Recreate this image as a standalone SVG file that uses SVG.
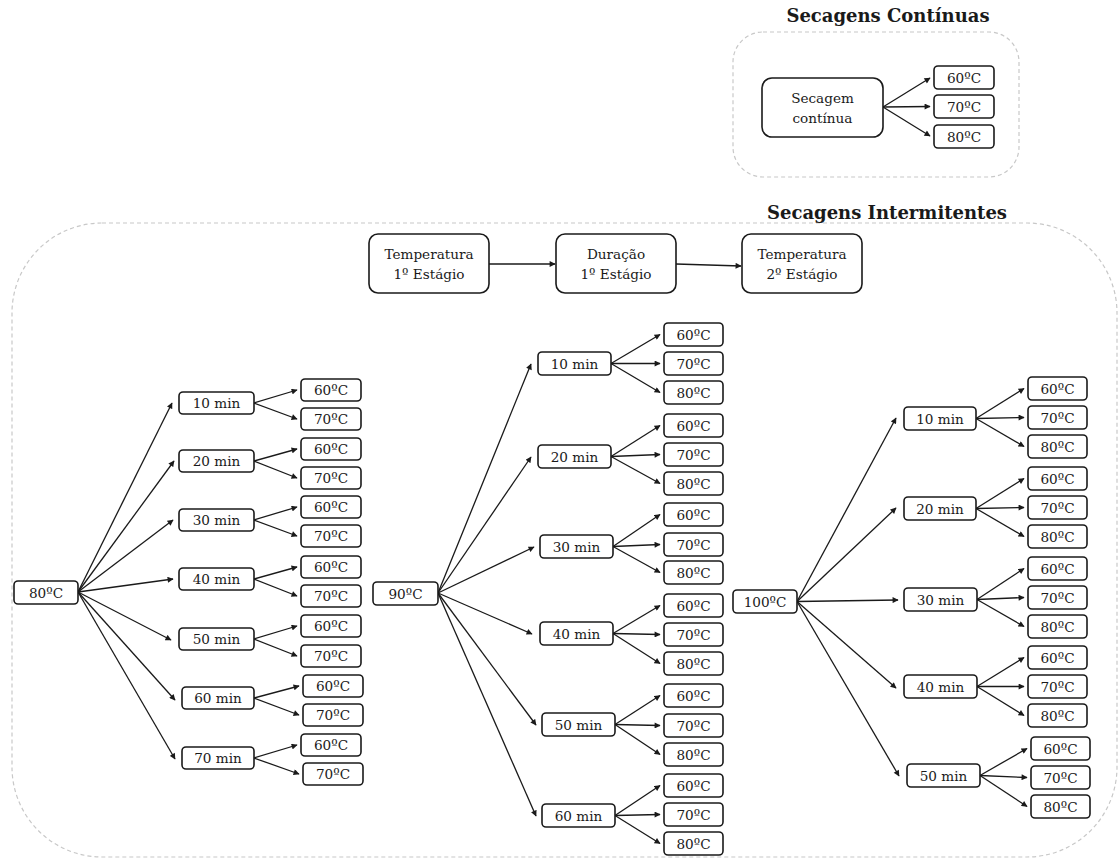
<svg xmlns="http://www.w3.org/2000/svg" width="1118" height="860" viewBox="0 0 1118 860">
<style>
.bg{fill:#fff}
.frame{fill:none;stroke:#c8c8c8;stroke-width:1.2;stroke-dasharray:4 3}
.box{fill:#fff;stroke:#1a1a1a;stroke-width:1.6}
.t{font-family:"DejaVu Serif","Liberation Serif",serif;font-size:13.6px;fill:#1a1a1a;text-anchor:middle;dominant-baseline:central}
.title{font-family:"DejaVu Serif","Liberation Serif",serif;font-size:18px;font-weight:bold;fill:#1a1a1a;text-anchor:middle}
.c path{fill:none;stroke:#1a1a1a;stroke-width:1.3;marker-end:url(#ah)}
</style>
<defs>
<marker id="ah" viewBox="0 0 10 10" refX="9" refY="5" markerWidth="7" markerHeight="6" orient="auto" markerUnits="userSpaceOnUse"><path d="M0,0 L10,5 L0,10 z" fill="#1a1a1a"/></marker>
</defs>
<rect class="bg" x="0" y="0" width="1118" height="860"/>

<g id="frame-continuas">
<rect class="frame" x="733" y="32" width="286" height="145" rx="30"/>
<text class="title" x="888" y="22">Secagens Contínuas</text>
</g>
<g id="frame-intermitentes">
<rect class="frame" x="12" y="223" width="1105" height="634" rx="90"/>
<text class="title" x="887" y="219">Secagens Intermitentes</text>
</g>

<g class="c" id="connectors">
<path d="M883,107 L930,78"/><path d="M883,107 L930,106.5"/><path d="M883,107 L930,136"/>
<path d="M489,264 L555,264"/><path d="M676,264 L741,266"/>
<path d="M78,592 L172,403"/><path d="M78,592 L174,461"/><path d="M78,592 L173,520"/><path d="M78,592 L173,579"/><path d="M78,592 L171,640"/><path d="M78,592 L175,700"/><path d="M78,592 L175,759"/>
<path d="M254,403 L297,390"/><path d="M254,403 L297,419"/>
<path d="M254,461 L297,449"/><path d="M254,461 L297,478"/>
<path d="M254,520 L297,507"/><path d="M254,520 L297,536"/>
<path d="M254,579 L297,567"/><path d="M254,579 L297,596"/>
<path d="M254,639 L297,626"/><path d="M254,639 L297,656"/>
<path d="M254,698 L299,686"/><path d="M254,698 L299,715"/>
<path d="M254,758 L297,745"/><path d="M254,758 L299,774"/>
<path d="M438,593 L531,364"/><path d="M438,593 L531,457"/><path d="M438,593 L534,547"/><path d="M438,593 L532,634"/><path d="M438,593 L536,725"/><path d="M438,593 L536,816"/>
<path d="M611,363.5 L660,334.5"/><path d="M611,363.5 L660,363.5"/><path d="M611,363.5 L660,392.5"/>
<path d="M611,456.5 L660,425.5"/><path d="M611,456.5 L660,454.5"/><path d="M611,456.5 L660,483.5"/>
<path d="M613,546.5 L660,514.5"/><path d="M613,546.5 L660,544.5"/><path d="M613,546.5 L660,572.5"/>
<path d="M613,633.5 L660,605.5"/><path d="M613,633.5 L660,634.5"/><path d="M613,633.5 L660,663.5"/>
<path d="M615,724.5 L660,695.5"/><path d="M615,724.5 L660,725.5"/><path d="M615,724.5 L660,754.5"/>
<path d="M615,815.5 L660,785.5"/><path d="M615,815.5 L660,814.5"/><path d="M615,815.5 L660,843.5"/>
<path d="M797,601.5 L896,418"/><path d="M797,601.5 L896,508"/><path d="M797,601.5 L898,600"/><path d="M797,601.5 L896,688"/><path d="M797,601.5 L899,776"/>
<path d="M976,418.5 L1024,388.5"/><path d="M976,418.5 L1024,417.5"/><path d="M976,418.5 L1024,446.5"/>
<path d="M976,508.5 L1024,478.5"/><path d="M976,508.5 L1024,507.5"/><path d="M976,508.5 L1024,536.5"/>
<path d="M977,599.5 L1024,568.5"/><path d="M977,599.5 L1024,597.5"/><path d="M977,599.5 L1024,626.5"/>
<path d="M977,686.5 L1024,657.5"/><path d="M977,686.5 L1024,686.5"/><path d="M977,686.5 L1024,715.5"/>
<path d="M980,775.5 L1027,748.5"/><path d="M980,775.5 L1027,777.5"/><path d="M980,775.5 L1027,806.5"/>
</g>

<g id="sc"><rect class="box" x="762" y="78" width="121" height="59" rx="10"/><text class="t" x="822.5" y="98">Secagem</text><text class="t" x="822.5" y="118">contínua</text></g>
<g id="sc-60"><rect class="box" x="934" y="66" width="60" height="23" rx="4"/><text class="t" x="964" y="77.5">60ºC</text></g>
<g id="sc-70"><rect class="box" x="934" y="95" width="60" height="23" rx="4"/><text class="t" x="964" y="106.5">70ºC</text></g>
<g id="sc-80"><rect class="box" x="934" y="125" width="60" height="23" rx="4"/><text class="t" x="964" y="136.5">80ºC</text></g>

<g id="h1"><rect class="box" x="369" y="234" width="120" height="59" rx="9"/><text class="t" x="429" y="254">Temperatura</text><text class="t" x="429" y="274">1º Estágio</text></g>
<g id="h2"><rect class="box" x="556" y="234" width="120" height="59" rx="9"/><text class="t" x="616" y="254">Duração</text><text class="t" x="616" y="274">1º Estágio</text></g>
<g id="h3"><rect class="box" x="742" y="234" width="120" height="59" rx="9"/><text class="t" x="802" y="254">Temperatura</text><text class="t" x="802" y="274">2º Estágio</text></g>

<g id="n80"><rect class="box" x="14" y="581" width="64" height="23" rx="4"/><text class="t" x="46" y="592.5">80ºC</text></g>
<g id="L10"><rect class="box" x="179" y="392" width="75" height="22" rx="4"/><text class="t" x="216.5" y="403">10 min</text></g>
<g id="L10-60"><rect class="box" x="301" y="379" width="60" height="22" rx="4"/><text class="t" x="331" y="390">60ºC</text></g>
<g id="L10-70"><rect class="box" x="301" y="408" width="60" height="22" rx="4"/><text class="t" x="331" y="419">70ºC</text></g>
<g id="L20"><rect class="box" x="179" y="450" width="75" height="22" rx="4"/><text class="t" x="216.5" y="461">20 min</text></g>
<g id="L20-60"><rect class="box" x="301" y="438" width="60" height="22" rx="4"/><text class="t" x="331" y="449">60ºC</text></g>
<g id="L20-70"><rect class="box" x="301" y="467" width="60" height="22" rx="4"/><text class="t" x="331" y="478">70ºC</text></g>
<g id="L30"><rect class="box" x="179" y="509" width="75" height="22" rx="4"/><text class="t" x="216.5" y="520">30 min</text></g>
<g id="L30-60"><rect class="box" x="301" y="496" width="60" height="22" rx="4"/><text class="t" x="331" y="507">60ºC</text></g>
<g id="L30-70"><rect class="box" x="301" y="525" width="60" height="22" rx="4"/><text class="t" x="331" y="536">70ºC</text></g>
<g id="L40"><rect class="box" x="179" y="568" width="75" height="22" rx="4"/><text class="t" x="216.5" y="579">40 min</text></g>
<g id="L40-60"><rect class="box" x="301" y="556" width="60" height="22" rx="4"/><text class="t" x="331" y="567">60ºC</text></g>
<g id="L40-70"><rect class="box" x="301" y="585" width="60" height="22" rx="4"/><text class="t" x="331" y="596">70ºC</text></g>
<g id="L50"><rect class="box" x="179" y="628" width="75" height="22" rx="4"/><text class="t" x="216.5" y="639">50 min</text></g>
<g id="L50-60"><rect class="box" x="301" y="615" width="60" height="22" rx="4"/><text class="t" x="331" y="626">60ºC</text></g>
<g id="L50-70"><rect class="box" x="301" y="645" width="60" height="22" rx="4"/><text class="t" x="331" y="656">70ºC</text></g>
<g id="L60"><rect class="box" x="182" y="687" width="72" height="22" rx="4"/><text class="t" x="218" y="698">60 min</text></g>
<g id="L60-60"><rect class="box" x="303" y="675" width="60" height="22" rx="4"/><text class="t" x="333" y="686">60ºC</text></g>
<g id="L60-70"><rect class="box" x="303" y="704" width="60" height="22" rx="4"/><text class="t" x="333" y="715">70ºC</text></g>
<g id="L70"><rect class="box" x="182" y="747" width="72" height="22" rx="4"/><text class="t" x="218" y="758">70 min</text></g>
<g id="L70-60"><rect class="box" x="301" y="734" width="60" height="22" rx="4"/><text class="t" x="331" y="745">60ºC</text></g>
<g id="L70-70"><rect class="box" x="303" y="763" width="60" height="22" rx="4"/><text class="t" x="333" y="774">70ºC</text></g>

<g id="n90"><rect class="box" x="373" y="582" width="65" height="23" rx="4"/><text class="t" x="405.5" y="593.5">90ºC</text></g>
<g id="M10"><rect class="box" x="538" y="352" width="73" height="23" rx="4"/><text class="t" x="574.5" y="363.5">10 min</text></g>
<g id="M10-60"><rect class="box" x="664" y="323" width="59" height="23" rx="4"/><text class="t" x="693.5" y="334.5">60ºC</text></g>
<g id="M10-70"><rect class="box" x="664" y="352" width="59" height="23" rx="4"/><text class="t" x="693.5" y="363.5">70ºC</text></g>
<g id="M10-80"><rect class="box" x="664" y="381" width="59" height="23" rx="4"/><text class="t" x="693.5" y="392.5">80ºC</text></g>
<g id="M20"><rect class="box" x="538" y="445" width="73" height="23" rx="4"/><text class="t" x="574.5" y="456.5">20 min</text></g>
<g id="M20-60"><rect class="box" x="664" y="414" width="59" height="23" rx="4"/><text class="t" x="693.5" y="425.5">60ºC</text></g>
<g id="M20-70"><rect class="box" x="664" y="443" width="59" height="23" rx="4"/><text class="t" x="693.5" y="454.5">70ºC</text></g>
<g id="M20-80"><rect class="box" x="664" y="472" width="59" height="23" rx="4"/><text class="t" x="693.5" y="483.5">80ºC</text></g>
<g id="M30"><rect class="box" x="540" y="535" width="73" height="23" rx="4"/><text class="t" x="576.5" y="546.5">30 min</text></g>
<g id="M30-60"><rect class="box" x="664" y="503" width="59" height="23" rx="4"/><text class="t" x="693.5" y="514.5">60ºC</text></g>
<g id="M30-70"><rect class="box" x="664" y="533" width="59" height="23" rx="4"/><text class="t" x="693.5" y="544.5">70ºC</text></g>
<g id="M30-80"><rect class="box" x="664" y="561" width="59" height="23" rx="4"/><text class="t" x="693.5" y="572.5">80ºC</text></g>
<g id="M40"><rect class="box" x="540" y="622" width="73" height="23" rx="4"/><text class="t" x="576.5" y="633.5">40 min</text></g>
<g id="M40-60"><rect class="box" x="664" y="594" width="59" height="23" rx="4"/><text class="t" x="693.5" y="605.5">60ºC</text></g>
<g id="M40-70"><rect class="box" x="664" y="623" width="59" height="23" rx="4"/><text class="t" x="693.5" y="634.5">70ºC</text></g>
<g id="M40-80"><rect class="box" x="664" y="652" width="59" height="23" rx="4"/><text class="t" x="693.5" y="663.5">80ºC</text></g>
<g id="M50"><rect class="box" x="542" y="713" width="73" height="23" rx="4"/><text class="t" x="578.5" y="724.5">50 min</text></g>
<g id="M50-60"><rect class="box" x="664" y="684" width="59" height="23" rx="4"/><text class="t" x="693.5" y="695.5">60ºC</text></g>
<g id="M50-70"><rect class="box" x="664" y="714" width="59" height="23" rx="4"/><text class="t" x="693.5" y="725.5">70ºC</text></g>
<g id="M50-80"><rect class="box" x="664" y="743" width="59" height="23" rx="4"/><text class="t" x="693.5" y="754.5">80ºC</text></g>
<g id="M60"><rect class="box" x="542" y="804" width="73" height="23" rx="4"/><text class="t" x="578.5" y="815.5">60 min</text></g>
<g id="M60-60"><rect class="box" x="664" y="774" width="59" height="23" rx="4"/><text class="t" x="693.5" y="785.5">60ºC</text></g>
<g id="M60-70"><rect class="box" x="664" y="803" width="59" height="23" rx="4"/><text class="t" x="693.5" y="814.5">70ºC</text></g>
<g id="M60-80"><rect class="box" x="664" y="832" width="59" height="23" rx="4"/><text class="t" x="693.5" y="843.5">80ºC</text></g>

<g id="n100"><rect class="box" x="733" y="590" width="64" height="23" rx="4"/><text class="t" x="765" y="601.5">100ºC</text></g>
<g id="R10"><rect class="box" x="904" y="407" width="72" height="23" rx="4"/><text class="t" x="940" y="418.5">10 min</text></g>
<g id="R10-60"><rect class="box" x="1028" y="377" width="59" height="23" rx="4"/><text class="t" x="1057.5" y="388.5">60ºC</text></g>
<g id="R10-70"><rect class="box" x="1028" y="406" width="59" height="23" rx="4"/><text class="t" x="1057.5" y="417.5">70ºC</text></g>
<g id="R10-80"><rect class="box" x="1028" y="435" width="59" height="23" rx="4"/><text class="t" x="1057.5" y="446.5">80ºC</text></g>
<g id="R20"><rect class="box" x="904" y="497" width="72" height="23" rx="4"/><text class="t" x="940" y="508.5">20 min</text></g>
<g id="R20-60"><rect class="box" x="1028" y="467" width="59" height="23" rx="4"/><text class="t" x="1057.5" y="478.5">60ºC</text></g>
<g id="R20-70"><rect class="box" x="1028" y="496" width="59" height="23" rx="4"/><text class="t" x="1057.5" y="507.5">70ºC</text></g>
<g id="R20-80"><rect class="box" x="1028" y="525" width="59" height="23" rx="4"/><text class="t" x="1057.5" y="536.5">80ºC</text></g>
<g id="R30"><rect class="box" x="904" y="588" width="73" height="23" rx="4"/><text class="t" x="940.5" y="599.5">30 min</text></g>
<g id="R30-60"><rect class="box" x="1028" y="557" width="59" height="23" rx="4"/><text class="t" x="1057.5" y="568.5">60ºC</text></g>
<g id="R30-70"><rect class="box" x="1028" y="586" width="59" height="23" rx="4"/><text class="t" x="1057.5" y="597.5">70ºC</text></g>
<g id="R30-80"><rect class="box" x="1028" y="615" width="59" height="23" rx="4"/><text class="t" x="1057.5" y="626.5">80ºC</text></g>
<g id="R40"><rect class="box" x="904" y="675" width="73" height="23" rx="4"/><text class="t" x="940.5" y="686.5">40 min</text></g>
<g id="R40-60"><rect class="box" x="1028" y="646" width="59" height="23" rx="4"/><text class="t" x="1057.5" y="657.5">60ºC</text></g>
<g id="R40-70"><rect class="box" x="1028" y="675" width="59" height="23" rx="4"/><text class="t" x="1057.5" y="686.5">70ºC</text></g>
<g id="R40-80"><rect class="box" x="1028" y="704" width="59" height="23" rx="4"/><text class="t" x="1057.5" y="715.5">80ºC</text></g>
<g id="R50"><rect class="box" x="907" y="764" width="73" height="23" rx="4"/><text class="t" x="943.5" y="775.5">50 min</text></g>
<g id="R50-60"><rect class="box" x="1031" y="737" width="59" height="23" rx="4"/><text class="t" x="1060.5" y="748.5">60ºC</text></g>
<g id="R50-70"><rect class="box" x="1031" y="766" width="59" height="23" rx="4"/><text class="t" x="1060.5" y="777.5">70ºC</text></g>
<g id="R50-80"><rect class="box" x="1031" y="795" width="59" height="23" rx="4"/><text class="t" x="1060.5" y="806.5">80ºC</text></g>
</svg>
